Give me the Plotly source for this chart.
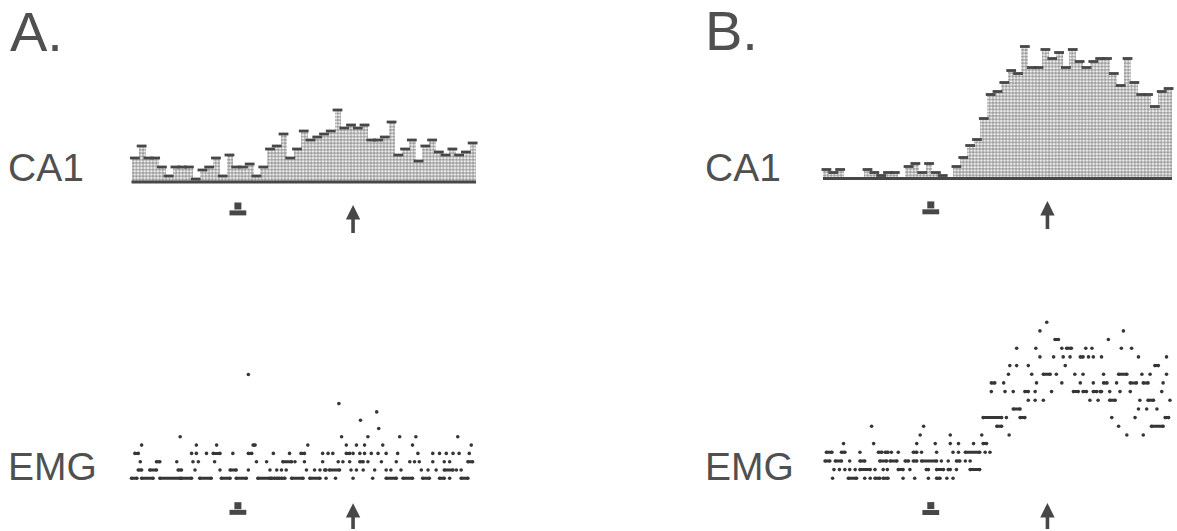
import plotly.graph_objects as go

W, H = 1177, 531

# CA1 unit: spike counts per time bin (51 bins) for the two trial types
ca1_a = [8, 12, 8, 8, 5, 2, 5, 5, 5, 1,
         4, 5, 8, 2, 9, 5, 5, 6, 2, 5,
         11, 12, 16, 8, 11, 17, 14, 15, 16, 17,
         24, 18, 19, 18, 19, 14, 14, 15, 20, 9,
         11, 14, 7, 12, 14, 10, 9, 11, 9, 10, 13]
ca1_b = [3, 2, 3, 0, 0, 0, 3, 2, 1, 2,
         2, 0, 4, 5, 2, 5, 2, 1, 0, 4,
         7, 11, 13, 20, 28, 29, 32, 36, 35, 44,
         37, 37, 43, 40, 42, 37, 43, 39, 37, 39,
         40, 40, 35, 31, 40, 32, 28, 28, 24, 29, 30]

# event times (in bins): cue onset and movement onset
cue_bin = 15.75
move_bin = 32.8

# EMG rasters: one list per amplitude level; a number is a single sample,
# a (start, end) pair is a run of consecutive samples
emg_a_levels = [0, 1, 2, 3, 4, 5, 6, 7, 8, 9, 12.5]
emg_a_rows = [
    [(0.0, 0.8), (1.5, 3.2), (4.2, 7.2), (7.4, 8.9), (10.1, 11.8), (13.3, 14.6), (15.5, 17.0),
     (18.7, 20.5), (20.7, 21.2), (21.5, 21.9), (22.2, 22.7), (23.7, 25.4), (26.4, 27.9), 28.8, 30.2,
     32.8, 35.7, (37.7, 39.2), (40.2, 41.6), (43.1, 44.1), (45.6, 46.3), 47.1, (48.8, 49.8)],
    [(1.0, 1.5), (2.7, 3.7), (6.9, 7.4), 9.4, 13.1, (14.6, 15.5), 17.3, 20.5, 21.5, 22.2, 22.9, 25.9,
     27.1, 27.9, (28.6, 28.8), (29.3, 30.8), 32.5, 33.3, 34.3, 36.0, 37.7, 38.4, 39.9, 42.9, 43.9,
     45.1, (46.3, 47.6), 48.1, 48.8],
    [1.3, (3.7, 4.2), 6.7, 9.1, 9.9, 12.3, 18.5, 20.0, (22.4, 23.7), 24.2, 25.6, 28.3, 30.6, 31.3,
     32.3, (33.8, 34.3), 35.0, 37.0, 39.2, 41.2, 41.9, 42.6, 44.6, 46.3, 47.1, (49.8, 50.5)],
    [(0.5, 1.0), 8.9, 9.6, 11.1, (12.1, 13.1), 15.0, (17.3, 17.8), 21.0, 23.4, (25.1, 25.6), 28.3,
     29.1, 29.8, (31.8, 32.3), 32.8, 33.8, 34.5, 35.5, 36.5, 37.7, 39.4, 42.4, 44.6, 45.6, 46.6,
     47.6, 48.5, 50.0],
    [1.5, 9.6, 12.6, (18.0, 18.3), 26.1, 31.8, 33.3, 34.5, 37.2, 41.6, 50.3],
    [7.2, 31.1, 35.0, 39.7, 42.1, 48.3],
    [36.6],
    [33.9],
    [36.3],
    [30.7],
    [17.3],
]

emg_b_levels = list(range(19))
emg_b_rows = [
    [1.4, (3.7, 4.9), 6.1, 6.9, (7.6, 8.3), (8.8, 9.5), 11.7, 13.4, 15.4, (16.6, 17.1), 18.1, 19.0],
    [1.6, 2.4, 3.2, 3.9, 4.7, (5.4, 6.9), 7.6, 8.8, 9.4, (11.0, 11.7), 12.7, (15.1, 15.4),
     (16.6, 17.6), (18.3, 18.6), 19.5, (21.5, 22.9)],
    [(0.3, 1.0), (1.8, 2.7), 3.9, (5.4, 6.1), (8.3, 9.3), (9.8, 10.8), (12.0, 12.5), (13.2, 13.7),
     (14.4, 16.6), 17.3, 18.3, (19.5, 20.0), 20.8, 21.5],
    [(0.5, 1.3), (2.7, 3.2), 5.4, (8.1, 8.6), (9.1, 9.5), 10.0, 11.0, (13.2, 13.7), 14.4, 16.6,
     19.0, 19.8, (20.8, 22.9), 23.7, 24.4],
    [3.0, 7.4, 13.7, 16.4, 18.6, 19.8, 22.0, (23.4, 23.9)],
    [14.2, 18.6, 23.2, 27.2, 44.4, 46.8],
    [7.1, 14.7, (25.4, 26.1), 43.2, (48.0, 49.7)],
    [(23.4, 26.1), 26.8, (28.8, 29.5), 42.2, 45.6, (50.0, 50.5)],
    [(27.8, 28.8), 46.1, 47.3, 48.8],
    [30.0, 31.0, 32.2, 39.0, 40.2, (41.9, 42.7), 46.3, (47.5, 48.3), 50.7],
    [24.6, 26.6, 27.8, (29.5, 30.0), 31.0, 33.4, (36.6, 37.3), (38.0, 38.5), (39.5, 40.0),
     (40.5, 40.7), 41.9, 43.4, 44.9, 49.5],
    [(24.6, 25.1), 26.4, 31.2, 34.9, 37.6, 39.5, (41.0, 41.5), 42.9, (44.9, 45.8), (46.8, 47.5), 49.7],
    [27.1, 30.5, (32.2, 33.2), 34.1, 36.8, 38.0, 41.0, (43.2, 44.4), 46.6, 47.8, 50.2],
    [27.3, 28.3, 30.0, 35.4, (48.5, 49.0)],
    [31.7, 33.7, 35.1, 36.1, (37.6, 38.0), 38.8, 39.5, 40.7, 46.1, 50.2],
    [28.3, 31.1, 34.9, (35.6, 36.3), 38.4, 39.3, 43.6, 45.1],
    [(33.9, 34.4), 41.7],
    [31.7, 43.9],
    [32.7],
]

INK = "#474747"
DOT = "#363636"
FONT = "Liberation Sans, Arial, sans-serif"


def px_x(p):
    return p / W


def px_y(p):
    return 1 - p / H


fig = go.Figure()


def add_hist(counts, xa, ya, cap_px):
    centers = [i + 0.5 for i in range(len(counts))]
    fig.add_trace(go.Bar(
        x=centers, y=counts, width=1.0, xaxis=xa, yaxis=ya,
        marker=dict(color="white", line=dict(width=0),
                    pattern=dict(shape=".", fgcolor="#3c3c3c", bgcolor="white",
                                 size=3.3, solidity=0.68, fillmode="overlay")),
        showlegend=False, hoverinfo="skip"))
    fig.add_trace(go.Scatter(
        x=centers, y=counts, xaxis=xa, yaxis=ya, mode="markers",
        marker=dict(symbol="line-ew", size=cap_px, line=dict(width=2.8, color=INK)),
        showlegend=False, hoverinfo="skip", cliponaxis=False))
    # thick baseline under the histogram
    fig.add_shape(type="line", xref=f"{xa} domain", yref=ya, x0=0, x1=1, y0=0, y1=0,
                  line=dict(color=INK, width=3), layer="above")


def add_raster(rows, levels, xa, ya):
    sx, sy, lx, ly = [], [], [], []
    for lev, row in zip(levels, rows):
        for item in row:
            if isinstance(item, tuple):
                lx += [item[0], item[1], None]
                ly += [lev, lev, None]
                sx += [item[0], item[1]]
                sy += [lev, lev]
            else:
                sx.append(item)
                sy.append(lev)
    fig.add_trace(go.Scatter(x=lx, y=ly, xaxis=xa, yaxis=ya, mode="lines",
                             line=dict(color=DOT, width=3), connectgaps=False,
                             showlegend=False, hoverinfo="skip", cliponaxis=False))
    fig.add_trace(go.Scatter(x=sx, y=sy, xaxis=xa, yaxis=ya, mode="markers",
                             marker=dict(color=DOT, size=3.6, line=dict(width=0)),
                             showlegend=False, hoverinfo="skip", cliponaxis=False))


def add_events(xa, ya, stem_y, base_y, tip_y):
    # cue marker: a small block on a wider foot
    fig.add_trace(go.Scatter(x=[cue_bin], y=[base_y], xaxis=xa, yaxis=ya, mode="markers",
                             marker=dict(symbol="line-ew", size=12, line=dict(width=5, color=INK)),
                             showlegend=False, hoverinfo="skip", cliponaxis=False))
    fig.add_trace(go.Scatter(x=[cue_bin], y=[stem_y], xaxis=xa, yaxis=ya, mode="markers",
                             marker=dict(symbol="square", size=7, color=INK, line=dict(width=0)),
                             showlegend=False, hoverinfo="skip", cliponaxis=False))
    # movement onset arrow
    fig.add_annotation(x=move_bin, y=tip_y, xref=xa, yref=ya, ax=0, ay=30,
                       showarrow=True, arrowhead=2, arrowsize=0.8, arrowwidth=3.6,
                       arrowcolor=INK, standoff=0, text=" ", font=dict(size=1))


add_hist(ca1_a, "x", "y", 7)
add_hist(ca1_b, "x2", "y2", 7)
add_raster(emg_a_rows, emg_a_levels, "x3", "y3")
add_raster(emg_b_rows, emg_b_levels, "x4", "y4")

add_events("x", "y", -8.0, -10.3, -7.7)
add_events("x2", "y2", -8.8, -11.1, -7.5)
add_events("x3", "y3", -3.3, -4.1, -3.0)
add_events("x4", "y4", -3.15, -3.95, -2.85)

hidden = dict(visible=True, showgrid=False, zeroline=False, showticklabels=False,
              ticks="", showline=False)

fig.update_layout(
    width=W, height=H,
    margin=dict(l=0, r=0, t=0, b=0),
    paper_bgcolor="white", plot_bgcolor="white",
    barmode="overlay", bargap=0,
    xaxis=dict(domain=[px_x(131.5), px_x(476)], range=[0, 51], anchor="y", **hidden),
    yaxis=dict(domain=[px_y(236), px_y(92)], range=[-18, 30], anchor="x", **hidden),
    xaxis2=dict(domain=[px_x(823), px_x(1172)], range=[0, 51], anchor="y2", **hidden),
    yaxis2=dict(domain=[px_y(232.5), px_y(28.5)], range=[-18, 50], anchor="x2", **hidden),
    xaxis3=dict(domain=[px_x(131.5), px_x(476)], range=[0, 51], anchor="y3", **hidden),
    yaxis3=dict(domain=[px_y(529.76), px_y(366.25)], range=[-6.2, 13.5], anchor="x3", **hidden),
    xaxis4=dict(domain=[px_x(823), px_x(1172)], range=[0, 51], anchor="y4", **hidden),
    yaxis4=dict(domain=[px_y(530.3), px_y(317.9)], range=[-6, 18.5], anchor="x4", **hidden),
)

labels = [
    ("A.", 8, 32, 56),
    ("B.", 703, 31, 56),
    ("CA1", 6, 168, 39),
    ("CA1", 703, 168, 39),
    ("EMG", 6, 466, 39),
    ("EMG", 703, 466, 39),
]
for text, x, y, size in labels:
    fig.add_annotation(text=text, x=px_x(x), y=px_y(y), xref="paper", yref="paper",
                       xanchor="left", yanchor="middle", showarrow=False,
                       font=dict(family=FONT, size=size, color="#505050"))

fig.write_html("out.html")
